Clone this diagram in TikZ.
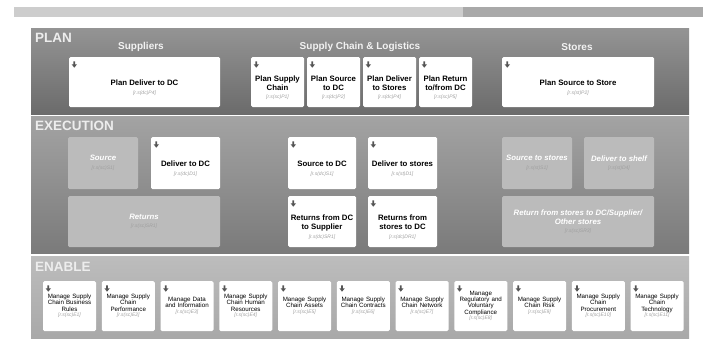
\documentclass[tikz,border=0pt]{standalone}
\usepackage{fontspec}
\setmainfont{Liberation Sans}
\definecolor{barlight}{HTML}{CDCDCD}
\definecolor{bardark}{HTML}{A9A9A9}
\definecolor{ghostgray}{HTML}{BBBBBB}
\definecolor{codegray}{HTML}{A0A0A0}
\definecolor{icongray}{HTML}{555555}

\begin{document}
\begin{tikzpicture}[x=1pt,y=-1pt,
    box/.style={rectangle,rounded corners=1.5pt,fill=white,align=center,inner sep=0.5pt,
                font=\fontsize{7.8}{9}\selectfont\bfseries},
    ebox/.style={rectangle,rounded corners=1.5pt,fill=white,align=center,inner sep=0pt,
                minimum width=53,minimum height=50,text width=53,
                font=\fontsize{6.2}{6.3}\selectfont},
    ghost/.style={rectangle,rounded corners=1.5pt,fill=ghostgray,text=white,align=center,
                inner sep=1pt,font=\fontsize{7.8}{9}\selectfont\bfseries\itshape},
    title/.style={anchor=north west,inner sep=0pt,text=white!93!black,
                font=\fontsize{13.5}{14}\selectfont\bfseries},
    head/.style={inner sep=0pt,text=white!95!black,font=\fontsize{10}{11}\selectfont\bfseries}]
    \useasboundingbox (0,0) rectangle (707,340);
    \newcommand{\rcode}[1]{\\[-0.5pt]{\fontsize{5}{6}\selectfont\mdseries\itshape\color{codegray}#1}}
    % top bar
    \fill[barlight] (14,7) rectangle (463,17);
    \fill[bardark] (463,7) rectangle (703,17);
    % bands
    \shade[top color=black!42,bottom color=black!58] (31,28) rectangle (689,114);
    \shade[top color=black!36,bottom color=black!52] (31,116) rectangle (689,253);
    \shade[top color=black!26,bottom color=black!34] (31,256) rectangle (689,338);
    \node[title] (plan) at (35,33) {PLAN};
    \node[title] (exec) at (35,121) {EXECUTION};
    \node[title] (enab) at (35,262) {ENABLE};
    \node[head] (hsup) at (141,47) {Suppliers};
    \node[head] (hscl) at (360,47) {Supply Chain \& Logistics};
    \node[head] (hsto) at (577,47) {Stores};
    % plan
    \node[box,minimum width=151,minimum height=50] (pdc) at (144.5,82) {\\[8pt]Plan Deliver to DC\rcode{[r.s(dc)P4]}};
    \node[box,minimum width=53,minimum height=50] (psc) at (277.5,82) {\\[8pt]Plan Supply\\Chain\rcode{[r.s(sc)P1]}};
    \node[box,minimum width=53,minimum height=50] (psdc) at (333.5,82) {\\[8pt]Plan Source\\to DC\rcode{[r.s(dc)P2]}};
    \node[box,minimum width=53,minimum height=50] (pds) at (389.5,82) {\\[8pt]Plan Deliver\\to Stores\rcode{[r.s(dc)P4]}};
    \node[box,minimum width=53,minimum height=50] (prdc) at (445.5,82) {\\[8pt]Plan Return\\to/from DC\rcode{[r.s(sc)P5]}};
    \node[box,minimum width=152,minimum height=50] (pss) at (578,82) {\\[8pt]Plan Source to Store\rcode{[r.s(st)P2]}};
    % execution
    \node[ghost,minimum width=70,minimum height=52] (src) at (103,163) {Source\rcode{[r.s(sc)S1]}};
    \node[box,minimum width=69,minimum height=52] (ddc) at (185.5,163) {\\[8pt]Deliver to DC\rcode{[r.s(dc)D1]}};
    \node[ghost,minimum width=152,minimum height=51] (ret) at (144,221.5) {Returns\rcode{[r.s(sc)SR1]}};
    \node[box,minimum width=68,minimum height=52] (sdc) at (322,163) {\\[8pt]Source to DC\rcode{[r.s(dc)S1]}};
    \node[box,minimum width=68,minimum height=51] (rdcs) at (322,221.5) {\\[8pt]Returns from DC\\to Supplier\rcode{[r.s(dc)SR1]}};
    \node[box,minimum width=69,minimum height=52] (dst) at (402.5,163) {\\[8pt]Deliver to stores\rcode{[r.s(st)D1]}};
    \node[box,minimum width=69,minimum height=51] (rsdc) at (402.5,221.5) {\\[8pt]Returns from\\stores to DC\rcode{[r.s(dc)DR1]}};
    \node[ghost,minimum width=70,minimum height=52] (sst) at (537,163) {Source to stores\rcode{[r.s(st)S1]}};
    \node[ghost,minimum width=70,minimum height=52] (dsh) at (619,163) {Deliver to shelf\rcode{[r.s(st)D4]}};
    \node[ghost,minimum width=152,minimum height=51] (rst) at (578,221.5) {Return from stores to DC/Supplier/\\Other stores\rcode{[r.s(sc)SR3]}};
    % enable
    \node[ebox] (e1) at (69.5,306) {Manage Supply\\Chain Business\\Rules\rcode{[r.s(sc)E1]}};
    \node[ebox] (e2) at (128.25,306) {Manage Supply\\Chain\\Performance\rcode{[r.s(sc)E2]}};
    \node[ebox] (e3) at (187,306) {Manage Data\\and Information\rcode{[r.s(sc)E3]}};
    \node[ebox] (e4) at (245.75,306) {Manage Supply\\Chain Human\\Resources\rcode{[r.s(sc)E4]}};
    \node[ebox] (e5) at (304.5,306) {Manage Supply\\Chain Assets\rcode{[r.s(sc)E5]}};
    \node[ebox] (e6) at (363.25,306) {Manage Supply\\Chain Contracts\rcode{[r.s(sc)E6]}};
    \node[ebox] (e7) at (422,306) {Manage Supply\\Chain Network\rcode{[r.s(sc)E7]}};
    \node[ebox] (e8) at (480.75,306) {Manage\\Regulatory and\\Voluntary\\Compliance\rcode{[r.s(sc)E8]}};
    \node[ebox] (e9) at (539.5,306) {Manage Supply\\Chain Risk\rcode{[r.s(sc)E9]}};
    \node[ebox] (e10) at (598.25,306) {Manage Supply\\Chain\\Procurement\rcode{[r.s(sc)E10]}};
    \node[ebox] (e11) at (657,306) {Manage Supply\\Chain\\Technology\rcode{[r.s(sc)E11]}};
    % arrow icons
    \foreach \b in {pdc,psc,psdc,pds,prdc,pss,ddc,sdc,rdcs,dst,rsdc,e1,e2,e3,e4,e5,e6,e7,e8,e9,e10,e11}
        \fill[icongray,shift={(\b.north west)}] (4.6,4.5) -- ++(1.8,0) -- ++(0,3) -- ++(1.8,0)
            -- ++(-2.7,3.4) -- ++(-2.7,-3.4) -- ++(1.8,0) -- cycle;
\end{tikzpicture}
\end{document}
